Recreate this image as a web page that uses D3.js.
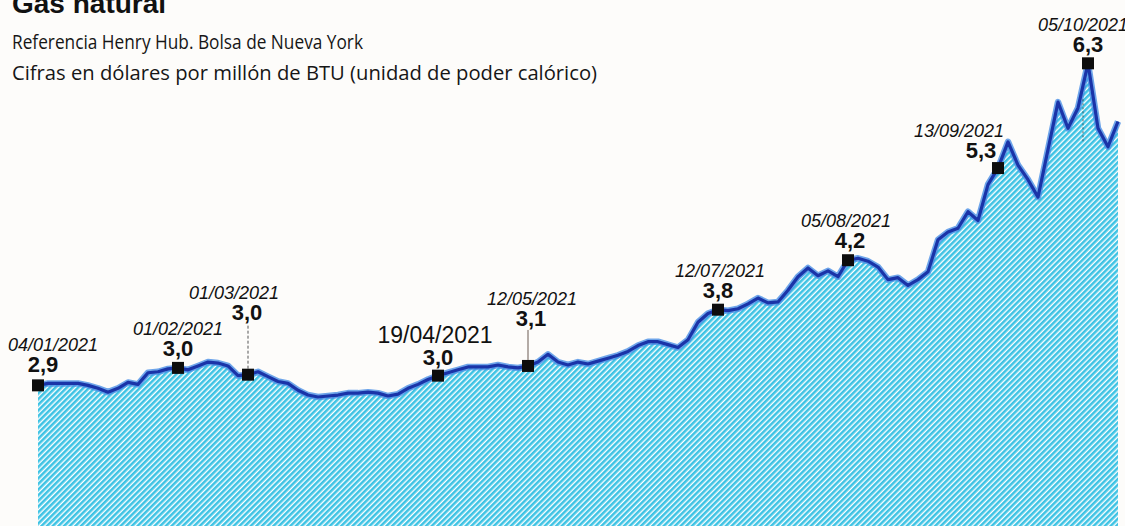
<!DOCTYPE html>
<html>
<head>
<meta charset="utf-8">
<script src="https://cdn.jsdelivr.net/npm/d3@7"></script>
<style>
  body { margin: 0; background: #fdfcfa; }
  svg { display: block; }
</style>
</head>
<body>
<svg id="canvas" width="1125" height="526"></svg>
<script>
// Henry Hub, dolares por millon de BTU (una sesion por paso)
const sessions = [
  2.95, 2.97, 2.97, 2.97, 2.97, 2.95, 2.92, 2.88, 2.92, 2.98,
  2.96, 3.08, 3.09, 3.12, 3.13, 3.11, 3.15, 3.19, 3.18, 3.15,
  3.05, 3.06, 3.09, 3.04, 2.99, 2.97, 2.90, 2.85, 2.83, 2.84,
  2.85, 2.87, 2.87, 2.88, 2.87, 2.84, 2.86, 2.92, 2.96, 3.01,
  3.05, 3.08, 3.11, 3.14, 3.14, 3.14, 3.16, 3.14, 3.13, 3.15,
  3.19, 3.27, 3.19, 3.16, 3.19, 3.17, 3.20, 3.23, 3.26, 3.30,
  3.36, 3.40, 3.40, 3.37, 3.34, 3.42, 3.60, 3.69, 3.73, 3.72,
  3.74, 3.79, 3.85, 3.80, 3.81, 3.93, 4.07, 4.16, 4.08, 4.13,
  4.07, 4.24, 4.26, 4.23, 4.17, 4.04, 4.06, 3.98, 4.04, 4.12,
  4.45, 4.53, 4.57, 4.74, 4.65, 5.02, 5.19, 5.46, 5.22, 5.07,
  4.89, 5.38, 5.87, 5.60, 5.81, 6.27, 5.60, 5.41, 5.67
];
const labelDates = [
  "04/01/2021", "01/02/2021", "01/03/2021", "19/04/2021", "12/05/2021",
  "12/07/2021", "05/08/2021", "13/09/2021", "05/10/2021"
];
const labelValues = ["2,9", "3,0", "3,0", "3,0", "3,1", "3,8", "4,2", "5,3", "6,3"];
const labelSessions = [0, 14, 21, 40, 49, 68, 81, 96, 105];

const title = "Gas natural";
const subtitles = [
  "Referencia Henry Hub. Bolsa de Nueva York",
  "Cifras en dólares por millón de BTU (unidad de poder calórico)"
];

// ajustes de posicion de cada etiqueta (no son datos)
const labelLayout = [
  { dateDx: 15, valDx: 5, lift: 3 },
  { dateDx: 0, valDx: 0, lift: 2 },
  { dateDx: -14, valDx: -1, lift: 45, connector: "dash" },
  { dateDx: -3, valDx: 0, lift: 1, big: true },
  { dateDx: 4, valDx: 3, lift: 30, connector: "solid" },
  { dateDx: 2, valDx: 0, lift: 2 },
  { dateDx: -2, valDx: 2, lift: 2 },
  { dateDx: -39, valDx: -17, lift: 0 },
  { dateDx: -5, valDx: 0, lift: 1, connector: "below" }
];
const subtitleWidths = [351, 585];

const width = 1125,
  height = 526;
const svg = d3.select("#canvas");

const x = d3
  .scaleLinear()
  .domain([0, sessions.length - 1])
  .range([38, 1118]);
const y = d3.scaleLinear().domain([1.5, 6.5]).range([height, 41]);

// trama diagonal
const defs = svg.append("defs");
const hatch = defs
  .append("pattern")
  .attr("id", "hatch")
  .attr("patternUnits", "userSpaceOnUse")
  .attr("width", 4)
  .attr("height", 4)
  .attr("patternTransform", "rotate(45)");
hatch.append("rect").attr("width", 4).attr("height", 4).attr("fill", "#ffffff");
hatch
  .append("rect")
  .attr("width", 2.6)
  .attr("height", 4)
  .attr("fill", "#3ec3e4");

const area = d3
  .area()
  .x((d, i) => x(i))
  .y0(y(1.5))
  .y1((d) => y(d));
const line = d3
  .line()
  .x((d, i) => x(i))
  .y((d) => y(d));

svg.append("path").datum(sessions).attr("d", area).attr("fill", "url(#hatch)");

svg
  .append("path")
  .datum(sessions)
  .attr("d", line)
  .attr("fill", "none")
  .attr("stroke", "#4a8ee6")
  .attr("stroke-width", 6.5)
  .attr("stroke-linejoin", "round")
  .attr("opacity", 0.8);
svg
  .append("path")
  .datum(sessions)
  .attr("d", line)
  .attr("fill", "none")
  .attr("stroke", "#1a34a8")
  .attr("stroke-width", 3.2)
  .attr("stroke-linejoin", "round");

// titulos
svg
  .append("text")
  .attr("x", 12)
  .attr("y", 13)
  .attr("font-family", "Liberation Sans, Arial, sans-serif")
  .attr("font-weight", "bold")
  .attr("font-size", 28)
  .attr("fill", "#111")
  .text(title);

svg
  .selectAll(".subtitle")
  .data(subtitles)
  .enter()
  .append("text")
  .attr("class", "subtitle")
  .attr("x", 12)
  .attr("y", (d, i) => 49 + i * 31)
  .attr("font-family", "Open Sans, sans-serif")
  .attr("font-size", 19.5)
  .attr("fill", "#161616")
  .attr("textLength", (d, i) => subtitleWidths[i])
  .attr("lengthAdjust", "spacingAndGlyphs")
  .text((d) => d);

// marcadores y etiquetas
const notes = labelSessions.map((s, i) => ({
  s: s,
  date: labelDates[i],
  val: labelValues[i],
  mx: x(s),
  my: y(sessions[s]),
  ...labelLayout[i]
}));

notes.forEach((n) => {
  const valY = n.my - 10 - n.lift;
  if (n.connector === "dash" || n.connector === "solid") {
    svg
      .append("line")
      .attr("x1", n.mx)
      .attr("x2", n.mx)
      .attr("y1", n.my - 6)
      .attr("y2", valY + 4)
      .attr("stroke", n.connector === "dash" ? "#555" : "#6b5a52")
      .attr("stroke-width", 1)
      .attr("stroke-dasharray", n.connector === "dash" ? "3,2" : null);
  }
  if (n.connector === "below") {
    svg
      .append("line")
      .attr("x1", n.mx - 5)
      .attr("x2", n.mx - 5)
      .attr("y1", n.my + 36)
      .attr("y2", n.my + 78)
      .attr("stroke", "#333")
      .attr("stroke-width", 1)
      .attr("stroke-dasharray", "2,2")
      .attr("opacity", 0.7);
  }
  svg
    .append("text")
    .attr("x", n.mx + n.valDx)
    .attr("y", valY)
    .attr("text-anchor", "middle")
    .attr("font-family", "Liberation Sans, Arial, sans-serif")
    .attr("font-weight", "bold")
    .attr("font-size", 22)
    .attr("fill", "#111")
    .text(n.val);
  svg
    .append("text")
    .attr("x", n.mx + n.dateDx)
    .attr("y", valY - (n.big ? 22 : 21))
    .attr("text-anchor", "middle")
    .attr("font-family", "Liberation Sans, Arial, sans-serif")
    .attr("font-style", n.big ? "normal" : "italic")
    .attr("font-size", n.big ? 23 : 18)
    .attr("fill", "#111")
    .text(n.date);
});

svg
  .selectAll(".marker")
  .data(notes)
  .enter()
  .append("rect")
  .attr("class", "marker")
  .attr("x", (d) => d.mx - 6)
  .attr("y", (d) => d.my - 6)
  .attr("width", 12)
  .attr("height", 12)
  .attr("fill", "#0d0d0d");
</script>
</body>
</html>
